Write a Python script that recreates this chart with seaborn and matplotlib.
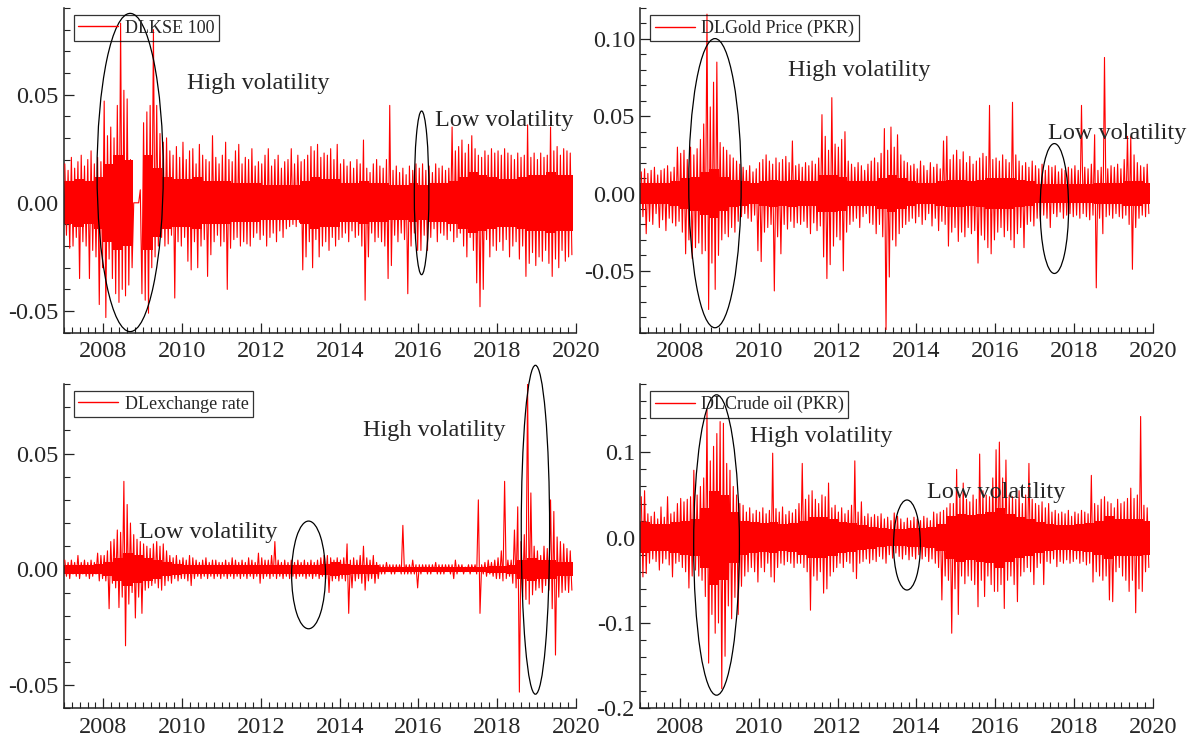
import numpy as np
import pandas as pd
import matplotlib
matplotlib.use("Agg")
import matplotlib.pyplot as plt
import seaborn as sns
from matplotlib.patches import Ellipse
from matplotlib.ticker import MultipleLocator, FormatStrFormatter

# monthly extremes (high / low) of daily log returns, Jan 2007 .. Nov 2019
START_YEAR = 2007
END_YEAR = 2019.92

KSE_HI = [
    0.018, 0.015, 0.021, 0.016, 0.019, 0.022, 0.017, 0.020, 0.024, 0.018, 0.021, 0.019,
    0.047, 0.031, 0.035, 0.030, 0.045, 0.083, 0.052, 0.048, 0.020, 0.000, 0.000, 0.006,
    0.037, 0.042, 0.045, 0.080, 0.045, 0.032, 0.028, 0.030, 0.024, 0.022, 0.026, 0.021,
    0.028, 0.020, 0.024, 0.025, 0.018, 0.027, 0.022, 0.020, 0.019, 0.031, 0.021, 0.018,
    0.022, 0.028, 0.020, 0.019, 0.024, 0.027, 0.018, 0.021, 0.020, 0.025, 0.017, 0.019,
    0.018, 0.022, 0.025, 0.017, 0.020, 0.022, 0.016, 0.019, 0.020, 0.025, 0.018, 0.022,
    0.019, 0.020, 0.022, 0.026, 0.024, 0.027, 0.021, 0.023, 0.022, 0.025, 0.020, 0.027,
    0.018, 0.020, 0.017, 0.019, 0.016, 0.020, 0.018, 0.029, 0.016, 0.014, 0.018, 0.020,
    0.017, 0.016, 0.020, 0.045, 0.015, 0.017, 0.014, 0.016, 0.013, 0.017, 0.015, 0.018,
    0.016, 0.018, 0.015, 0.017, 0.014, 0.018, 0.016, 0.017, 0.015, 0.016, 0.035, 0.024,
    0.026, 0.029, 0.023, 0.027, 0.031, 0.025, 0.022, 0.021, 0.024, 0.022, 0.025, 0.023,
    0.024, 0.022, 0.025, 0.023, 0.022, 0.020, 0.023, 0.021, 0.022, 0.036, 0.021, 0.023,
    0.020, 0.023, 0.021, 0.022, 0.035, 0.024, 0.026, 0.022, 0.025, 0.024, 0.023,
]
KSE_LO = [
    -0.015, -0.021, -0.020, -0.016, -0.035, -0.018, -0.020, -0.035, -0.022, -0.025, -0.047, -0.030,
    -0.053, -0.026, -0.035, -0.042, -0.046, -0.040, -0.043, -0.038, -0.030, 0.000, 0.000, -0.042,
    -0.045, -0.051, -0.030, -0.025, -0.020, -0.016, -0.020, -0.019, -0.015, -0.044, -0.018, -0.020,
    -0.016, -0.027, -0.031, -0.018, -0.030, -0.020, -0.017, -0.034, -0.024, -0.018, -0.015, -0.020,
    -0.018, -0.040, -0.021, -0.017, -0.016, -0.020, -0.018, -0.019, -0.020, -0.016, -0.014, -0.017,
    -0.015, -0.020, -0.016, -0.014, -0.018, -0.013, -0.016, -0.012, -0.011, -0.010, -0.011, -0.009,
    -0.031, -0.025, -0.018, -0.030, -0.017, -0.025, -0.020, -0.018, -0.022, -0.016, -0.020, -0.017,
    -0.016, -0.014, -0.018, -0.013, -0.016, -0.015, -0.020, -0.045, -0.025, -0.014, -0.018, -0.016,
    -0.018, -0.020, -0.035, -0.029, -0.015, -0.018, -0.014, -0.017, -0.042, -0.020, -0.014, -0.022,
    -0.022, -0.015, -0.022, -0.016, -0.012, -0.018, -0.014, -0.015, -0.017, -0.013, -0.018, -0.016,
    -0.014, -0.020, -0.025, -0.016, -0.022, -0.037, -0.048, -0.040, -0.017, -0.025, -0.020, -0.022,
    -0.018, -0.022, -0.017, -0.025, -0.020, -0.018, -0.026, -0.020, -0.034, -0.028, -0.023, -0.029,
    -0.025, -0.027, -0.022, -0.028, -0.034, -0.026, -0.030, -0.022, -0.027, -0.025, -0.024,
]
# quarterly half-width of the solid core of the series
KSE_CORE = [
    0.010, 0.011, 0.010, 0.012, 0.018, 0.022, 0.020, 0.000, 0.022, 0.016, 0.012, 0.011,
    0.011, 0.012, 0.010, 0.010, 0.010, 0.009, 0.009, 0.009, 0.008, 0.008, 0.008, 0.008,
    0.010, 0.012, 0.011, 0.011, 0.009, 0.009, 0.010, 0.009, 0.009, 0.008, 0.008, 0.009,
    0.008, 0.009, 0.009, 0.010, 0.012, 0.014, 0.013, 0.012, 0.011, 0.011, 0.012, 0.013,
    0.013, 0.014, 0.013, 0.013,
]

GOLD_HI = [
    0.014, 0.016, 0.013, 0.015, 0.017, 0.012, 0.015, 0.016, 0.018, 0.014, 0.017, 0.030,
    0.026, 0.028, 0.022, 0.030, 0.025, 0.029, 0.035, 0.045, 0.116, 0.056, 0.072, 0.085,
    0.033, 0.030, 0.028, 0.025, 0.023, 0.021, 0.019, 0.017, 0.015, 0.018, 0.014, 0.016,
    0.020, 0.022, 0.025, 0.021, 0.019, 0.023, 0.020, 0.022, 0.024, 0.020, 0.034, 0.018,
    0.019, 0.017, 0.020, 0.018, 0.021, 0.019, 0.023, 0.051, 0.037, 0.028, 0.062, 0.032,
    0.030, 0.035, 0.040, 0.021, 0.019, 0.017, 0.020, 0.018, 0.015, 0.019, 0.021, 0.023,
    0.020, 0.026, 0.042, 0.028, 0.043, 0.030, 0.038, 0.025, 0.021, 0.020, 0.018, 0.019,
    0.016, 0.021, 0.018, 0.015, 0.020, 0.017, 0.019, 0.016, 0.034, 0.037, 0.022, 0.025,
    0.028, 0.022, 0.027, 0.020, 0.024, 0.019, 0.021, 0.023, 0.026, 0.024, 0.057, 0.022,
    0.023, 0.021, 0.025, 0.022, 0.020, 0.059, 0.025, 0.021, 0.018, 0.020, 0.017, 0.021,
    0.018, 0.016, 0.019, 0.015, 0.018, 0.017, 0.018, 0.014, 0.016, 0.015, 0.017, 0.016,
    0.018, 0.015, 0.057, 0.017, 0.016, 0.019, 0.038, 0.015, 0.017, 0.088, 0.016, 0.018,
    0.017, 0.019, 0.016, 0.022, 0.037, 0.037, 0.025, 0.020, 0.018, 0.017, 0.019,
]
GOLD_LO = [
    -0.015, -0.026, -0.018, -0.020, -0.013, -0.022, -0.017, -0.024, -0.016, -0.019, -0.021, -0.018,
    -0.025, -0.039, -0.030, -0.042, -0.035, -0.032, -0.039, -0.037, -0.075, -0.045, -0.062, -0.040,
    -0.030, -0.026, -0.028, -0.022, -0.025, -0.018, -0.015, -0.013, -0.016, -0.018, -0.014, -0.037,
    -0.044, -0.025, -0.022, -0.020, -0.063, -0.028, -0.039, -0.020, -0.023, -0.018, -0.022, -0.019,
    -0.020, -0.018, -0.022, -0.026, -0.019, -0.024, -0.021, -0.041, -0.055, -0.046, -0.034, -0.028,
    -0.030, -0.050, -0.025, -0.020, -0.018, -0.016, -0.022, -0.015, -0.013, -0.019, -0.020, -0.026,
    -0.020, -0.028, -0.088, -0.054, -0.030, -0.034, -0.026, -0.022, -0.020, -0.018, -0.016, -0.019,
    -0.015, -0.020, -0.017, -0.013, -0.021, -0.016, -0.024, -0.018, -0.020, -0.034, -0.025, -0.022,
    -0.031, -0.025, -0.028, -0.022, -0.026, -0.024, -0.045, -0.027, -0.030, -0.035, -0.039, -0.030,
    -0.025, -0.022, -0.028, -0.024, -0.030, -0.035, -0.026, -0.022, -0.035, -0.020, -0.018, -0.021,
    -0.016, -0.018, -0.014, -0.016, -0.022, -0.013, -0.015, -0.012, -0.016, -0.014, -0.013, -0.015,
    -0.014, -0.016, -0.013, -0.015, -0.017, -0.014, -0.061, -0.016, -0.026, -0.015, -0.014, -0.016,
    -0.013, -0.015, -0.016, -0.014, -0.020, -0.049, -0.022, -0.016, -0.014, -0.015, -0.013,
]
GOLD_CORE = [
    0.007, 0.007, 0.007, 0.008, 0.010, 0.011, 0.014, 0.016, 0.011, 0.009, 0.008, 0.007,
    0.008, 0.009, 0.008, 0.009, 0.008, 0.008, 0.012, 0.012, 0.011, 0.008, 0.008, 0.008,
    0.010, 0.012, 0.010, 0.008, 0.007, 0.007, 0.008, 0.009, 0.009, 0.008, 0.009, 0.010,
    0.010, 0.010, 0.009, 0.008, 0.006, 0.006, 0.006, 0.006, 0.006, 0.006, 0.007, 0.007,
    0.007, 0.008, 0.008, 0.007,
]

FX_HI = [
    0.004, 0.003, 0.004, 0.003, 0.006, 0.003, 0.004, 0.003, 0.004, 0.003, 0.007, 0.006,
    0.006, 0.008, 0.012, 0.013, 0.017, 0.016, 0.038, 0.028, 0.020, 0.015, 0.013, 0.012,
    0.011, 0.010, 0.009, 0.011, 0.012, 0.010, 0.011, 0.008, 0.006, 0.005, 0.006, 0.004,
    0.005, 0.004, 0.006, 0.005, 0.004, 0.003, 0.004, 0.005, 0.003, 0.004, 0.004, 0.003,
    0.003, 0.004, 0.003, 0.005, 0.004, 0.003, 0.004, 0.003, 0.005, 0.004, 0.003, 0.007,
    0.005, 0.004, 0.004, 0.006, 0.012, 0.004, 0.003, 0.004, 0.003, 0.004, 0.003, 0.004,
    0.003, 0.004, 0.003, 0.004, 0.003, 0.004, 0.005, 0.006, 0.006, 0.005, 0.004, 0.005,
    0.004, 0.005, 0.011, 0.004, 0.005, 0.004, 0.006, 0.010, 0.005, 0.004, 0.006, 0.003,
    0.002, 0.002, 0.003, 0.002, 0.002, 0.002, 0.002, 0.019, 0.002, 0.002, 0.004, 0.002,
    0.002, 0.002, 0.002, 0.002, 0.002, 0.003, 0.002, 0.002, 0.002, 0.002, 0.002, 0.004,
    0.002, 0.002, 0.001, 0.002, 0.002, 0.002, 0.030, 0.002, 0.003, 0.004, 0.003, 0.004,
    0.005, 0.008, 0.038, 0.004, 0.004, 0.017, 0.027, 0.012, 0.015, 0.080, 0.033, 0.010,
    0.008, 0.006, 0.010, 0.009, 0.030, 0.025, 0.014, 0.012, 0.011, 0.009, 0.008,
]
FX_LO = [
    -0.003, -0.004, -0.002, -0.003, -0.004, -0.002, -0.003, -0.004, -0.003, -0.002, -0.005, -0.004,
    -0.005, -0.017, -0.006, -0.008, -0.0165, -0.012, -0.033, -0.015, -0.010, -0.021, -0.012, -0.019,
    -0.009, -0.008, -0.007, -0.006, -0.008, -0.009, -0.007, -0.005, -0.006, -0.004, -0.005, -0.004,
    -0.004, -0.005, -0.007, -0.004, -0.003, -0.004, -0.003, -0.004, -0.003, -0.004, -0.003, -0.004,
    -0.003, -0.004, -0.003, -0.004, -0.003, -0.004, -0.003, -0.004, -0.003, -0.004, -0.003, -0.006,
    -0.004, -0.003, -0.004, -0.003, -0.004, -0.003, -0.004, -0.003, -0.004, -0.003, -0.004, -0.003,
    -0.003, -0.004, -0.003, -0.004, -0.003, -0.004, -0.003, -0.004, -0.010, -0.005, -0.004, -0.005,
    -0.004, -0.005, -0.019, -0.008, -0.005, -0.004, -0.006, -0.009, -0.005, -0.004, -0.006, -0.004,
    -0.002, -0.002, -0.001, -0.002, -0.002, -0.001, -0.002, -0.002, -0.002, -0.002, -0.002, -0.008,
    -0.002, -0.001, -0.002, -0.002, -0.001, -0.002, -0.002, -0.002, -0.001, -0.002, -0.004, -0.002,
    -0.001, -0.002, -0.001, -0.002, -0.001, -0.002, -0.019, -0.002, -0.003, -0.002, -0.003, -0.004,
    -0.004, -0.005, -0.004, -0.003, -0.006, -0.008, -0.053, -0.012, -0.013, -0.015, -0.011, -0.009,
    -0.008, -0.010, -0.007, -0.009, -0.017, -0.037, -0.012, -0.010, -0.009, -0.010, -0.009,
]
FX_CORE = [
    0.0018, 0.0018, 0.0018, 0.0022, 0.0030, 0.0050, 0.0070, 0.0060, 0.0050, 0.0040, 0.0030, 0.0025,
    0.0020, 0.0020, 0.0020, 0.0020, 0.0018, 0.0018, 0.0018, 0.0020, 0.0020, 0.0020, 0.0020, 0.0020,
    0.0020, 0.0020, 0.0025, 0.0030, 0.0025, 0.0020, 0.0020, 0.0020, 0.0012, 0.0010, 0.0010, 0.0010,
    0.0010, 0.0010, 0.0010, 0.0010, 0.0010, 0.0010, 0.0010, 0.0015, 0.0015, 0.0020, 0.0040, 0.0050,
    0.0040, 0.0040, 0.0030, 0.0030,
]

OIL_HI = [
    0.048, 0.055, 0.028, 0.025, 0.030, 0.022, 0.036, 0.024, 0.048, 0.028, 0.030, 0.040,
    0.046, 0.042, 0.045, 0.048, 0.079, 0.050, 0.060, 0.070, 0.150, 0.090, 0.107, 0.122,
    0.136, 0.134, 0.087, 0.079, 0.060, 0.050, 0.040, 0.038, 0.030, 0.035, 0.028, 0.032,
    0.030, 0.035, 0.028, 0.032, 0.099, 0.034, 0.030, 0.036, 0.027, 0.031, 0.029, 0.033,
    0.040, 0.087, 0.045, 0.050, 0.055, 0.045, 0.040, 0.050, 0.048, 0.064, 0.035, 0.038,
    0.030, 0.035, 0.028, 0.032, 0.038, 0.090, 0.030, 0.042, 0.025, 0.028, 0.024, 0.027,
    0.025, 0.028, 0.022, 0.024, 0.020, 0.029, 0.025, 0.022, 0.018, 0.023, 0.020, 0.024,
    0.022, 0.020, 0.025, 0.023, 0.020, 0.030, 0.028, 0.030, 0.032, 0.035, 0.040, 0.040,
    0.080, 0.048, 0.064, 0.045, 0.042, 0.050, 0.045, 0.098, 0.055, 0.050, 0.048, 0.070,
    0.103, 0.112, 0.070, 0.091, 0.050, 0.048, 0.045, 0.055, 0.040, 0.050, 0.087, 0.045,
    0.040, 0.038, 0.042, 0.035, 0.040, 0.030, 0.032, 0.028, 0.030, 0.028, 0.032, 0.025,
    0.030, 0.028, 0.032, 0.030, 0.028, 0.073, 0.040, 0.038, 0.045, 0.048, 0.042, 0.040,
    0.035, 0.045, 0.040, 0.042, 0.046, 0.058, 0.046, 0.050, 0.142, 0.038, 0.035,
]
OIL_LO = [
    -0.046, -0.042, -0.030, -0.025, -0.028, -0.038, -0.030, -0.025, -0.032, -0.046, -0.030, -0.028,
    -0.035, -0.040, -0.059, -0.045, -0.038, -0.045, -0.050, -0.069, -0.147, -0.090, -0.112, -0.100,
    -0.177, -0.139, -0.080, -0.095, -0.070, -0.090, -0.057, -0.045, -0.040, -0.035, -0.040, -0.052,
    -0.035, -0.040, -0.030, -0.046, -0.052, -0.035, -0.030, -0.032, -0.028, -0.030, -0.035, -0.030,
    -0.030, -0.035, -0.040, -0.085, -0.045, -0.050, -0.040, -0.065, -0.060, -0.045, -0.040, -0.035,
    -0.030, -0.035, -0.028, -0.030, -0.040, -0.048, -0.030, -0.028, -0.025, -0.030, -0.026, -0.028,
    -0.022, -0.025, -0.030, -0.020, -0.024, -0.018, -0.022, -0.025, -0.020, -0.026, -0.022, -0.025,
    -0.020, -0.025, -0.022, -0.028, -0.025, -0.030, -0.035, -0.073, -0.045, -0.050, -0.112, -0.060,
    -0.090, -0.045, -0.054, -0.045, -0.050, -0.055, -0.081, -0.050, -0.069, -0.045, -0.055, -0.063,
    -0.063, -0.055, -0.083, -0.050, -0.045, -0.055, -0.075, -0.045, -0.040, -0.035, -0.040, -0.055,
    -0.035, -0.030, -0.055, -0.028, -0.030, -0.025, -0.034, -0.028, -0.030, -0.026, -0.030, -0.028,
    -0.025, -0.030, -0.028, -0.032, -0.030, -0.052, -0.040, -0.045, -0.050, -0.045, -0.073, -0.075,
    -0.040, -0.035, -0.045, -0.050, -0.063, -0.050, -0.088, -0.060, -0.063, -0.040, -0.035,
]
OIL_CORE = [
    0.018, 0.016, 0.016, 0.018, 0.020, 0.022, 0.035, 0.055, 0.050, 0.030, 0.020, 0.018,
    0.017, 0.018, 0.016, 0.017, 0.020, 0.024, 0.024, 0.022, 0.018, 0.017, 0.015, 0.013,
    0.011, 0.010, 0.010, 0.011, 0.011, 0.012, 0.016, 0.025, 0.028, 0.026, 0.028, 0.030,
    0.035, 0.028, 0.024, 0.022, 0.018, 0.016, 0.015, 0.015, 0.016, 0.017, 0.020, 0.025,
    0.022, 0.022, 0.022, 0.020,
]

LABELS = ["DLKSE 100", "DLGold Price (PKR)", "DLexchange rate", "DLCrude oil (PKR)"]


def monthly_frame(hi, lo):
    # one high and one low point per month -> dense zig-zag like the daily series
    m = np.arange(len(hi))
    x = np.column_stack([START_YEAR + (m + 0.25) / 12, START_YEAR + (m + 0.75) / 12]).ravel()
    y = np.column_stack([hi, lo]).ravel()
    return pd.DataFrame({"year": x, "value": y})


PANELS = [
    dict(rect=[0.0535, 0.5492, 0.4281, 0.4400], hi=KSE_HI, lo=KSE_LO, core=KSE_CORE,
         label=LABELS[0], ylim=(-0.060, 0.090), major=0.05, minor=0.01, fmt="%.2f",
         ellipses=[(2008.68, 0.014, 1.68, 0.147), (2016.08, 0.0046, 0.37, 0.0756)],
         texts=[(2010.12, 0.0552, "High volatility"), (2016.42, 0.0381, "Low volatility")]),
    dict(rect=[0.5355, 0.5492, 0.4285, 0.4400], hi=GOLD_HI, lo=GOLD_LO, core=GOLD_CORE,
         label=LABELS[1], ylim=(-0.090, 0.120), major=0.05, minor=0.01, fmt="%.2f",
         ellipses=[(2008.89, 0.0067, 1.33, 0.187), (2017.50, -0.0097, 0.72, 0.084)],
         texts=[(2010.73, 0.0794, "High volatility"), (2017.33, 0.039, "Low volatility")]),
    dict(rect=[0.0535, 0.0402, 0.4281, 0.4394], hi=FX_HI, lo=FX_LO, core=FX_CORE,
         label=LABELS[2], ylim=(-0.060, 0.080), major=0.05, minor=0.01, fmt="%.2f",
         ellipses=[(2013.21, -0.0024, 0.86, 0.0465), (2018.97, 0.0171, 0.72, 0.142)],
         texts=[(2014.58, 0.0601, "High volatility"), (2008.91, 0.0158, "Low volatility")]),
    dict(rect=[0.5355, 0.0402, 0.4285, 0.4394], hi=OIL_HI, lo=OIL_LO, core=OIL_CORE,
         label=LABELS[3], ylim=(-0.200, 0.180), major=0.1, minor=0.02, fmt="%.1f",
         ellipses=[(2008.93, -0.0086, 1.16, 0.352), (2013.76, -0.0086, 0.68, 0.1055)],
         texts=[(2009.79, 0.118, "High volatility"), (2014.27, 0.0528, "Low volatility")]),
]


def main():
    sns.set_theme(style="ticks")
    plt.rcParams["font.family"] = ["Liberation Serif", "DejaVu Serif"]
    plt.rcParams["axes.unicode_minus"] = False

    fig = plt.figure(figsize=(11.96, 7.38), dpi=100)

    for p in PANELS:
        ax = fig.add_axes(p["rect"])

        # solid core of the daily returns (quarterly width)
        core = np.asarray(p["core"])
        xq = np.minimum(START_YEAR + np.arange(len(core) + 1) / 4, END_YEAR)
        cq = np.append(core, core[-1])
        ax.fill_between(xq, -cq, cq, step="post", color="red", linewidth=0, zorder=2)

        df = monthly_frame(p["hi"], p["lo"])
        sns.lineplot(data=df, x="year", y="value", ax=ax, color="red", linewidth=0.8,
                     estimator=None, sort=False, label=p["label"], zorder=3)

        ax.set_xlim(2007, 2020)
        ax.set_ylim(*p["ylim"])
        ax.xaxis.set_major_locator(MultipleLocator(2))
        ax.xaxis.set_minor_locator(MultipleLocator(0.2))
        ax.yaxis.set_major_locator(MultipleLocator(p["major"]))
        ax.yaxis.set_minor_locator(MultipleLocator(p["minor"]))
        ax.yaxis.set_major_formatter(FormatStrFormatter(p["fmt"]))
        ax.xaxis.set_major_formatter(FormatStrFormatter("%d"))
        ax.set_xlabel("")
        ax.set_ylabel("")

        sns.despine(ax=ax)
        for s in ("left", "bottom"):
            ax.spines[s].set_linewidth(1.1)
            ax.spines[s].set_color("#222222")
        ax.tick_params(which="major", direction="in", length=7, width=0.9,
                       color="#222222", labelsize=17.5, pad=4)
        ax.tick_params(which="minor", direction="in", length=4, width=0.8, color="#222222")
        ax.tick_params(axis="x", which="major", pad=6)

        for cx, cy, w, h in p["ellipses"]:
            ax.add_patch(Ellipse((cx, cy), w, h, fill=False, edgecolor="black",
                                 linewidth=0.9, clip_on=False, zorder=4))
        for tx, ty, s in p["texts"]:
            ax.text(tx, ty, s, fontsize=17.5, ha="left", va="center", zorder=5)

        leg = ax.legend(loc="upper left", bbox_to_anchor=(0.0195, 0.978), borderaxespad=0,
                        fontsize=13, frameon=True, fancybox=False, borderpad=0.25,
                        handlelength=2.2, handletextpad=0.35)
        leg.get_frame().set_edgecolor("black")
        leg.get_frame().set_linewidth(0.9)
        leg.get_frame().set_facecolor("none")
        for line in leg.get_lines():
            line.set_linewidth(1.0)

    fig.savefig("out.png", dpi=100)
    plt.close(fig)


if __name__ == "__main__":
    main()
